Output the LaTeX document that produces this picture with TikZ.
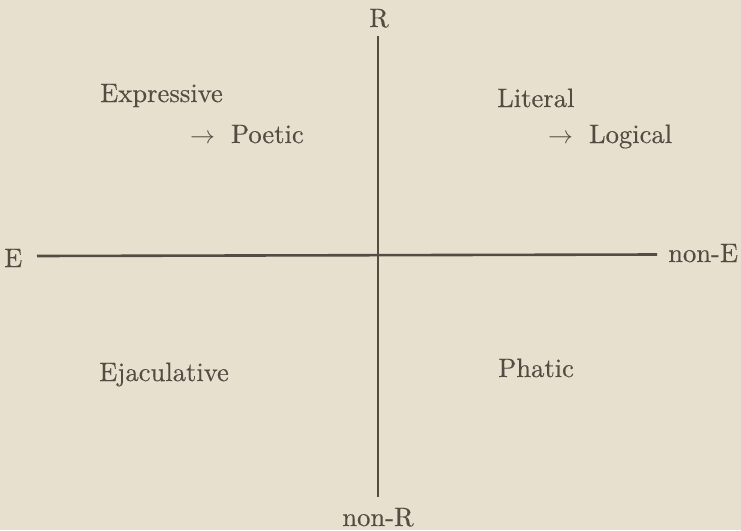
\documentclass[tikz,border=0pt]{standalone}
\usepackage{fontspec}
\setmainfont{lmroman10-regular.otf}[FakeBold=0.35]
\definecolor{paper}{RGB}{232,224,206}
\definecolor{ink}{RGB}{84,75,67}
\begin{document}
\begin{tikzpicture}[x=1pt,y=-1pt,
  lbl/.style={text=ink, inner sep=0pt, font=\fontsize{26.6}{30}\selectfont},
  axisline/.style={draw=ink}]
\fill[paper] (0,0) rectangle (741,530);
\useasboundingbox (0,0) rectangle (741,530);
% axis end labels
\node[lbl, anchor=base] (R) at (379,27) {R};
\node[lbl, anchor=base] (nonR) at (378,526) {non-R};
\node[lbl, anchor=base west] (E) at (4,267) {E};
\node[lbl, anchor=base west] (nonE) at (668,262) {non-E};
% axes
\coordinate (top) at (378,36);
\coordinate (bot) at (378,497);
\coordinate (left) at (37,256);
\coordinate (right) at (657,254.5);
\draw[axisline, line width=2pt] (top) -- (bot);
\draw[axisline, line width=2.6pt] (left) -- (right);
% quadrant labels
\node[lbl, anchor=base west] (expr) at (100,102) {Expressive};
\node[lbl, anchor=base west] (poet) at (190,143) {$\rightarrow$\hspace{0.6em}Poetic};
\node[lbl, anchor=base west] (lit) at (497,107) {Literal};
\node[lbl, anchor=base west] (logi) at (548,143) {$\rightarrow$\hspace{0.6em}Logical};
\node[lbl, anchor=base west] (ejac) at (99,381) {Ejaculative};
\node[lbl, anchor=base west] (phat) at (498,377) {Phatic};
\end{tikzpicture}
\end{document}
